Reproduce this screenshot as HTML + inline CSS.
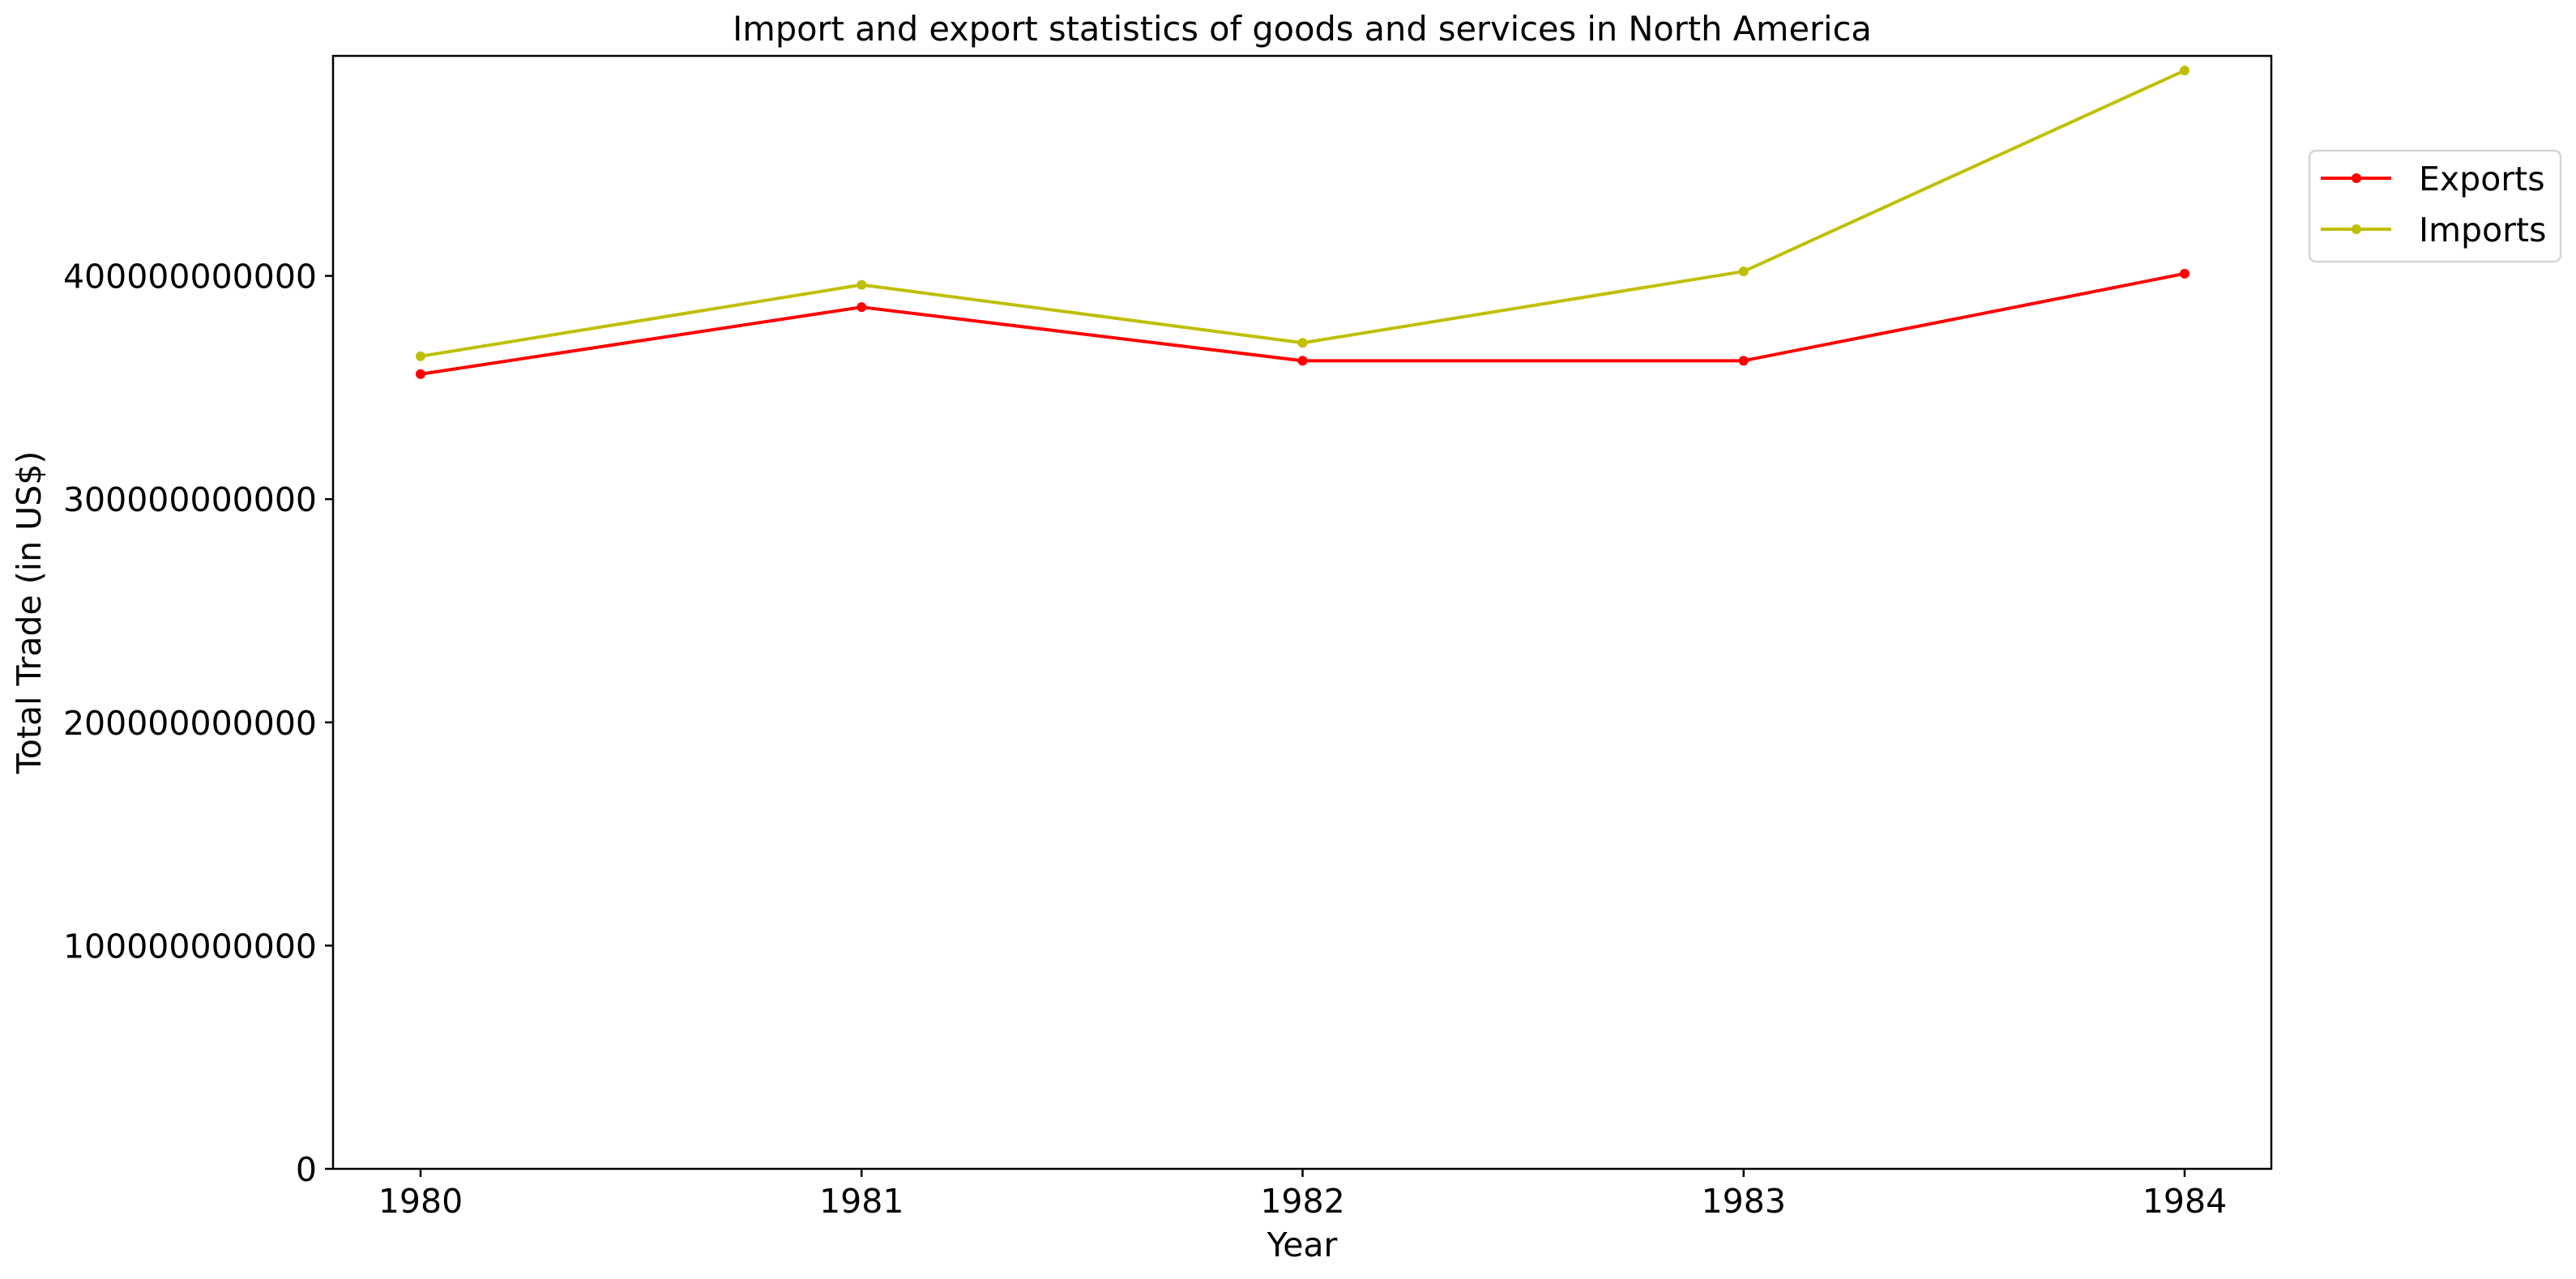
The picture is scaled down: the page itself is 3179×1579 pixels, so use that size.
<!DOCTYPE html>
<html><head><meta charset="utf-8"><style>
html,body{margin:0;padding:0;background:#fff;}
svg{display:block;font-family:"DejaVu Sans","Liberation Sans",sans-serif;}
</style></head><body>
<svg id="chart" width="3179" height="1579" viewBox="0 0 3179 1579">
<text x="1607" y="50" font-size="41.5" text-anchor="middle">Import and export statistics of goods and services in North America</text>
<g id="plot"></g>
<rect x="411" y="69" width="2392" height="1374" fill="none" stroke="#000" stroke-width="2.5"/>
<text x="1607" y="1551" font-size="41" text-anchor="middle">Year</text>
<text x="50" y="756" font-size="41" text-anchor="middle" transform="rotate(-90 50 756)">Total Trade (in US$)</text>
<g>
<rect x="2850" y="186" width="310" height="137" rx="8" fill="#fff" stroke="#d5d5d5" stroke-width="2.5"/>
<g>
<line x1="2864" y1="220" x2="2951" y2="220" stroke="#ff0000" stroke-width="4"/><circle cx="2908" cy="220" r="6" fill="#ff0000"/>
<text x="2985" y="235" font-size="41">Exports</text></g>
<g>
<line x1="2864" y1="283" x2="2951" y2="283" stroke="#bfbf00" stroke-width="4"/><circle cx="2908" cy="283" r="6" fill="#bfbf00"/>
<text x="2985" y="298" font-size="41">Imports</text></g>
</g>
</svg>
<script>
const years = [1980, 1981, 1982, 1983, 1984];
const exportsVals = [356e9, 386e9, 362e9, 362e9, 401e9];
const importsVals = [364e9, 396e9, 370e9, 402e9, 492e9];
const yTicks = [0, 100e9, 200e9, 300e9, 400e9];
const yTickLabels = ["0", "100000000000", "200000000000", "300000000000", "400000000000"];

const NS = "http://www.w3.org/2000/svg";
const g = document.getElementById('plot');
const X0 = 519, XSTEP = 544.25;
const xScale = i => X0 + i * XSTEP;
const yScale = v => 1443 - v / 100e9 * 275.6;
function mk(tag, attrs){const e=document.createElementNS(NS,tag);for(const k in attrs)e.setAttribute(k,attrs[k]);g.appendChild(e);return e;}

yTicks.forEach((v,i)=>{
  const y=yScale(v);
  const t=mk('line',{x1:401,y1:y,x2:411,y2:y,stroke:'#000','stroke-width':2.5});
  
  
  const l=mk('text',{x:391,y:y+15,'font-size':41,'text-anchor':'end'});
  l.textContent=yTickLabels[i];
  
  
});
years.forEach((yr,i)=>{
  const x=xScale(i);
  const t=mk('line',{x1:x,y1:1443,x2:x,y2:1453,stroke:'#000','stroke-width':2.5});
  
  
  const l=mk('text',{x:x,y:1497,'font-size':41,'text-anchor':'middle'});
  l.textContent=yr;
  
  
});
function series(vals,color,name){
  const pts=vals.map((v,i)=>xScale(i)+','+yScale(v)).join(' ');
  const p=mk('polyline',{points:pts,fill:'none',stroke:color,'stroke-width':4,'stroke-linejoin':'round'});
  
  
  vals.forEach((v,i)=>{
    const c=mk('circle',{cx:xScale(i),cy:yScale(v),r:6,fill:color});
    
    
  });
}
series(exportsVals,'#ff0000','exports');
series(importsVals,'#bfbf00','imports');
</script>
</body></html>
